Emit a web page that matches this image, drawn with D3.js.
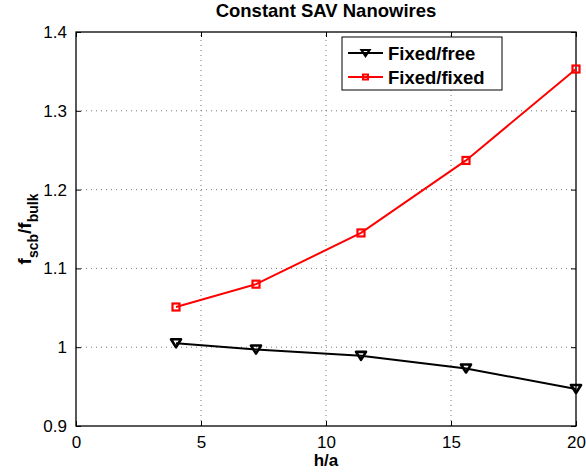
<!DOCTYPE html>
<html>
<head>
<meta charset="utf-8">
<script src="https://cdn.jsdelivr.net/npm/d3@7"></script>
<style>
  body { margin: 0; background: #fff; }
  text { font-family: "Liberation Sans", Arial, sans-serif; }
</style>
</head>
<body>
<svg id="chart"></svg>
<script>
const width = 586;
const height = 473;

// data
const ha = [4, 7.2, 11.4, 15.6, 20];
const fixedFree = [1.005, 0.997, 0.989, 0.973, 0.947];
const fixedFixed = [1.051, 1.080, 1.145, 1.237, 1.353];
const xTicks = [0, 5, 10, 15, 20];
const yTicks = [0.9, 1, 1.1, 1.2, 1.3, 1.4];
const seriesNames = ["Fixed/free", "Fixed/fixed"];

const margin = { top: 32, right: 10, bottom: 47, left: 76 };
const svg = d3.select('#chart').attr('width', width).attr('height', height);

const x = d3.scaleLinear().domain([0, 20]).range([margin.left, width - margin.right]);
const y = d3.scaleLinear().domain([0.9, 1.4]).range([height - margin.bottom, margin.top]);

const x0 = x.range()[0], x1 = x.range()[1];
const y0 = y.range()[0], y1 = y.range()[1];

// grid
svg.append('g').selectAll('line').data(xTicks.slice(1, -1))
  .enter().append('line')
    .attr('x1', d => x(d)).attr('x2', d => x(d))
    .attr('y1', y0).attr('y2', y1)
    .attr('stroke', '#777').attr('stroke-dasharray', '1,4');
svg.append('g').selectAll('line').data(yTicks.slice(1, -1))
  .enter().append('line')
    .attr('x1', x0).attr('x2', x1)
    .attr('y1', d => y(d)).attr('y2', d => y(d))
    .attr('stroke', '#777').attr('stroke-dasharray', '1,4');

// axes with inward ticks on all four sides
const fmtY = d => d === 1 ? '1' : d3.format('.1f')(d);
const axisStyle = g => {
  g.select('.domain').remove();
  g.selectAll('line').attr('stroke', '#000');
  g.selectAll('text').attr('fill', '#000').style('font-size', '17px');
};
svg.append('g').attr('transform', `translate(0,${y0})`)
  .call(d3.axisBottom(x).tickValues(xTicks).tickSize(-5).tickPadding(10))
  .call(axisStyle);
svg.append('g').attr('transform', `translate(0,${y1})`)
  .call(d3.axisTop(x).tickValues(xTicks).tickSize(-5).tickFormat(''))
  .call(axisStyle);
svg.append('g').attr('transform', `translate(${x0},0)`)
  .call(d3.axisLeft(y).tickValues(yTicks).tickSize(-5).tickPadding(9).tickFormat(fmtY))
  .call(axisStyle);
svg.append('g').attr('transform', `translate(${x1},0)`)
  .call(d3.axisRight(y).tickValues(yTicks).tickSize(-5).tickFormat(''))
  .call(axisStyle);

svg.append('rect')
  .attr('x', x0).attr('y', y1).attr('width', x1 - x0).attr('height', y0 - y1)
  .attr('fill', 'none').attr('stroke', '#000').attr('stroke-width', 1.3);

// lines
const line = d3.line().x((d, i) => x(ha[i])).y(d => y(d));
const triangle = 'M-5,-4L5,-4L0,4Z';

svg.append('path').datum(fixedFree)
  .attr('d', line).attr('fill', 'none').attr('stroke', '#000').attr('stroke-width', 2);
svg.append('path').datum(fixedFixed)
  .attr('d', line).attr('fill', 'none').attr('stroke', '#f00').attr('stroke-width', 2);

svg.append('g').selectAll('path').data(fixedFree)
  .enter().append('path')
    .attr('d', triangle)
    .attr('transform', (d, i) => `translate(${x(ha[i])},${y(d)})`)
    .attr('fill', 'none').attr('stroke', '#000').attr('stroke-width', 2.6)
    .attr('stroke-linejoin', 'round');
svg.append('g').selectAll('rect').data(fixedFixed)
  .enter().append('rect')
    .attr('x', (d, i) => x(ha[i]) - 3.5).attr('y', d => y(d) - 3.5)
    .attr('width', 7).attr('height', 7)
    .attr('fill', 'none').attr('stroke', '#f00').attr('stroke-width', 2.2);

// legend
const legend = svg.append('g').attr('transform', 'translate(342,37)');
legend.append('rect').attr('width', 160).attr('height', 53)
  .attr('fill', '#fff').attr('stroke', '#000');
const colors = ['#000', '#f00'];
seriesNames.forEach((name, i) => {
  const ly = 16 + i * 24;
  legend.append('line').attr('x1', 6).attr('x2', 41).attr('y1', ly).attr('y2', ly)
    .attr('stroke', colors[i]).attr('stroke-width', 2);
  if (i === 0) {
    legend.append('path').attr('d', 'M-4,-3L4,-3L0,3Z').attr('transform', `translate(23.5,${ly})`)
      .attr('fill', 'none').attr('stroke', '#000').attr('stroke-width', 2.2);
  } else {
    legend.append('rect').attr('x', 21).attr('y', ly - 2.5).attr('width', 5).attr('height', 5)
      .attr('fill', 'none').attr('stroke', '#f00').attr('stroke-width', 2);
  }
  legend.append('text').attr('x', 46).attr('y', ly + 6.5)
    .style('font-size', '18.5px').style('font-weight', 'bold').text(name);
});

// title and labels
svg.append('text').attr('x', (x0 + x1) / 2).attr('y', 17)
  .attr('text-anchor', 'middle').style('font-size', '18.5px').style('font-weight', 'bold')
  .text('Constant SAV Nanowires');
svg.append('text').attr('x', (x0 + x1) / 2).attr('y', 466)
  .attr('text-anchor', 'middle').style('font-size', '17px').style('font-weight', 'bold')
  .text('h/a');

const yl = svg.append('text')
  .attr('transform', `translate(31,${(y0 + y1) / 2}) rotate(-90)`)
  .attr('text-anchor', 'middle').style('font-weight', 'bold').style('font-size', '19px');
yl.append('tspan').text('f');
yl.append('tspan').attr('dy', 7).style('font-size', '14px').text('scb');
yl.append('tspan').attr('dy', -7).text('/f');
yl.append('tspan').attr('dy', 7).style('font-size', '14px').text('bulk');
</script>
</body>
</html>
